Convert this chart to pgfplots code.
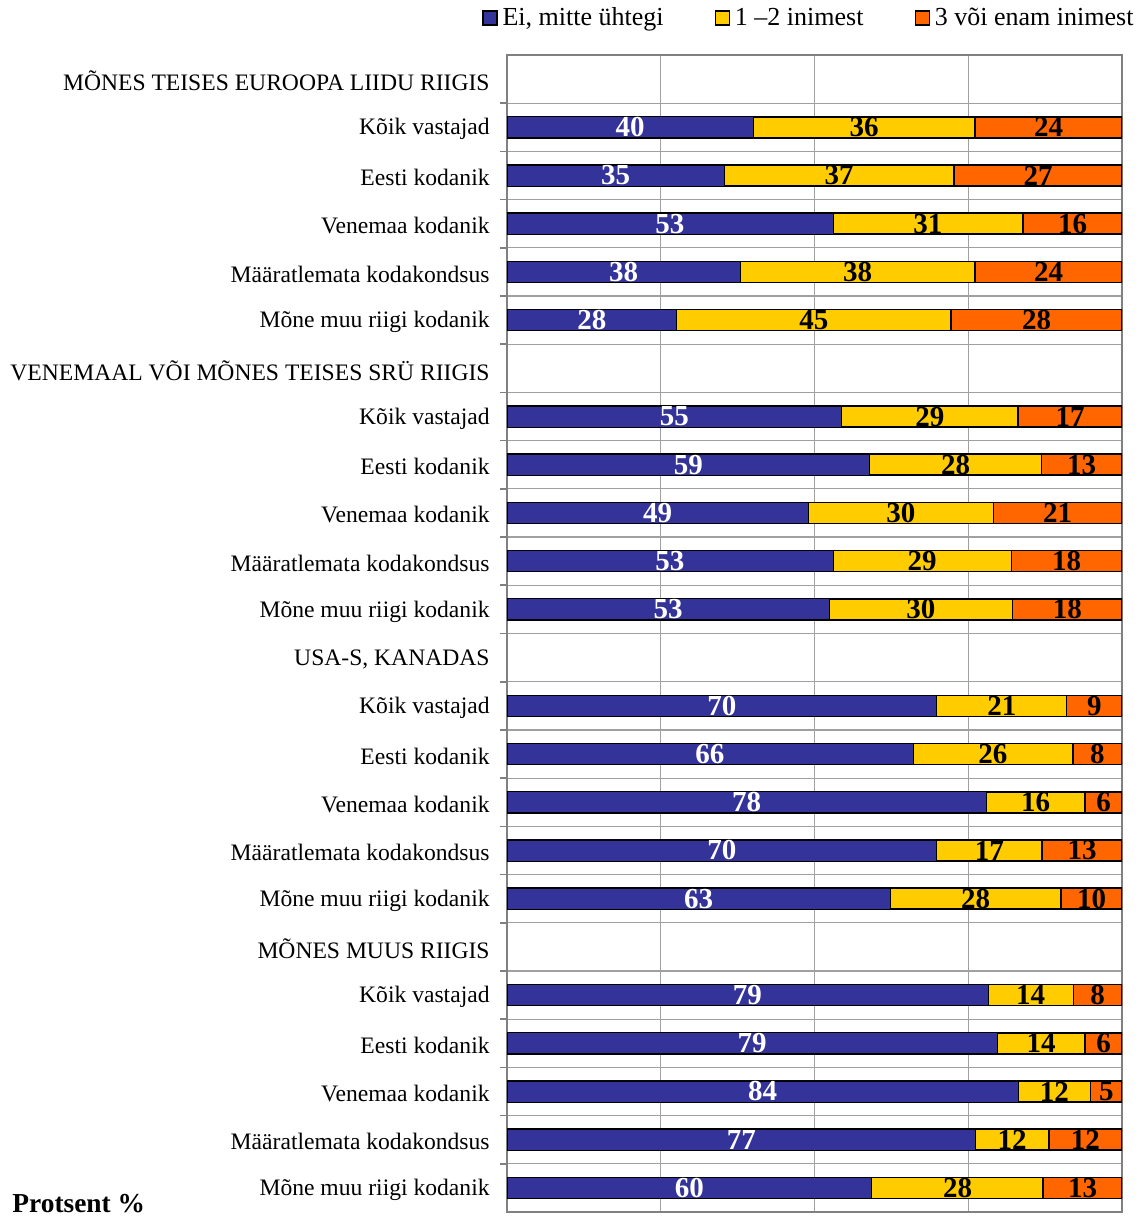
\documentclass[border=0pt]{standalone}
\usepackage{pgfplots}
\pgfplotsset{compat=1.18}
\usepackage{pgfplotstable}
\usepackage{fontspec}
\setmainfont{Liberation Serif}

\definecolor{cblue}{HTML}{333399}
\definecolor{cyellow}{HTML}{FFCC00}
\definecolor{corange}{HTML}{FF6600}
\definecolor{gridgray}{HTML}{A0A0A0}

% row index, segment lengths (%), printed labels
\pgfplotstableread{
y  a    b    c    la lb lc
1  40.0 36.1 23.9 40 36 24
2  35.3 37.4 27.3 35 37 27
3  53.0 30.9 16.1 53 31 16
4  37.9 38.2 23.9 38 38 24
5  27.6 44.6 27.8 28 45 28
7  54.4 28.7 16.9 55 29 17
8  59.0 27.9 13.1 59 28 13
9  49.0 30.1 20.9 49 30 21
10 53.0 29.0 18.0 53 29 18
11 52.4 29.8 17.8 53 30 18
13 69.9 21.1 9.0  70 21 9
14 66.0 26.0 8.0  66 26 8
15 77.9 16.1 6.0  78 16 6
16 69.9 17.1 13.0 70 17 13
17 62.3 27.8 9.9  63 28 10
19 78.2 13.9 7.9  79 14 8
20 79.7 14.3 6.0  79 14 6
21 83.1 11.8 5.1  84 12 5
22 76.2 11.9 11.9 77 12 12
23 59.3 27.9 12.8 60 28 13
}\data

\begin{document}
\begin{tikzpicture}
\begin{axis}[
    at={(253.5pt,3pt)}, anchor=south west,
    scale only axis,
    width=307.5pt, height=578.5pt,
    xmin=0, xmax=100,
    ymin=-0.5, ymax=23.5,
    y dir=reverse,
    xtick={25,50,75}, xticklabels={},
    xmajorgrids,
    major x grid style={gridgray, line width=0.6pt},
    ytick={0,...,23},
    yticklabels={
        MÕNES TEISES EUROOPA LIIDU RIIGIS,
        Kõik vastajad, Eesti kodanik, Venemaa kodanik, Määratlemata kodakondsus, Mõne muu riigi kodanik,
        VENEMAAL VÕI MÕNES TEISES SRÜ RIIGIS,
        Kõik vastajad, Eesti kodanik, Venemaa kodanik, Määratlemata kodakondsus, Mõne muu riigi kodanik,
        {USA-S, KANADAS},
        Kõik vastajad, Eesti kodanik, Venemaa kodanik, Määratlemata kodakondsus, Mõne muu riigi kodanik,
        MÕNES MUUS RIIGIS,
        Kõik vastajad, Eesti kodanik, Venemaa kodanik, Määratlemata kodakondsus, Mõne muu riigi kodanik},
    minor ytick={0.5,1.5,...,22.5},
    yminorgrids,
    minor y grid style={gridgray, line width=0.6pt},
    ytick pos=left,
    tick align=outside,
    major tick length=0pt,
    minor tick length=3.5pt,
    every minor tick/.style={gray, line width=0.8pt},
    axis line style={gray, line width=1pt},
    yticklabel style={font=\rmfamily\fontsize{11.8}{12}\selectfont, inner sep=0pt, xshift=-8.5pt, yshift=-1pt},
    legend image code/.code={\draw[#1, line width=0.7pt] (0pt,-3.5pt) rectangle (7pt,3.5pt);},
    legend columns=3,
    legend style={draw=none, fill=none, at={(1.0275,1.032)}, anchor=east,
        inner xsep=0pt, inner ysep=0pt,
        font=\rmfamily\fontsize{13}{13}\selectfont,
        nodes={inner xsep=2.5pt},
        /tikz/every even column/.append style={column sep=23pt}},
]
\addlegendimage{fill=cblue, draw=black}
\addlegendentry{Ei, mitte ühtegi}
\addlegendimage{fill=cyellow, draw=black}
\addlegendentry{1 –2 inimest}
\addlegendimage{fill=corange, draw=black}
\addlegendentry{3 või enam inimest}

% bars drawn back to front: full length orange, then yellow, then blue
\addplot[xbar, bar width=10.5pt, bar shift=0pt, fill=corange, draw=black, line width=0.8pt, forget plot]
    table[x expr=\thisrow{a}+\thisrow{b}+\thisrow{c}, y=y] {\data};
\addplot[xbar, bar width=10.5pt, bar shift=0pt, fill=cyellow, draw=black, line width=0.8pt, forget plot]
    table[x expr=\thisrow{a}+\thisrow{b}, y=y] {\data};
\addplot[xbar, bar width=10.5pt, bar shift=0pt, fill=cblue, draw=black, line width=0.4pt, forget plot]
    table[x=a, y=y] {\data};

% value labels in the middle of each segment
\addplot[draw=none, mark=none, forget plot, nodes near coords, point meta=explicit symbolic,
    every node near coord/.style={anchor=center, text=white, font=\rmfamily\bfseries\fontsize{14.5}{14}\selectfont}]
    table[x expr=\thisrow{a}/2, y=y, meta=la] {\data};
\addplot[draw=none, mark=none, forget plot, nodes near coords, point meta=explicit symbolic,
    every node near coord/.style={anchor=center, text=black, font=\rmfamily\bfseries\fontsize{14.5}{14}\selectfont}]
    table[x expr=\thisrow{a}+\thisrow{b}/2, y=y, meta=lb] {\data};
\addplot[draw=none, mark=none, forget plot, nodes near coords, point meta=explicit symbolic,
    every node near coord/.style={anchor=center, text=black, font=\rmfamily\bfseries\fontsize{14.5}{14}\selectfont}]
    table[x expr=\thisrow{a}+\thisrow{b}+\thisrow{c}/2, y=y, meta=lc] {\data};
\end{axis}
\node[anchor=base west, inner sep=0pt, font=\rmfamily\bfseries\fontsize{13.7}{14}\selectfont] at (6pt,2.5pt) {Protsent \%};
\pgfresetboundingbox
\useasboundingbox (0,0) rectangle (570.5pt,609pt);
\end{tikzpicture}
\end{document}
